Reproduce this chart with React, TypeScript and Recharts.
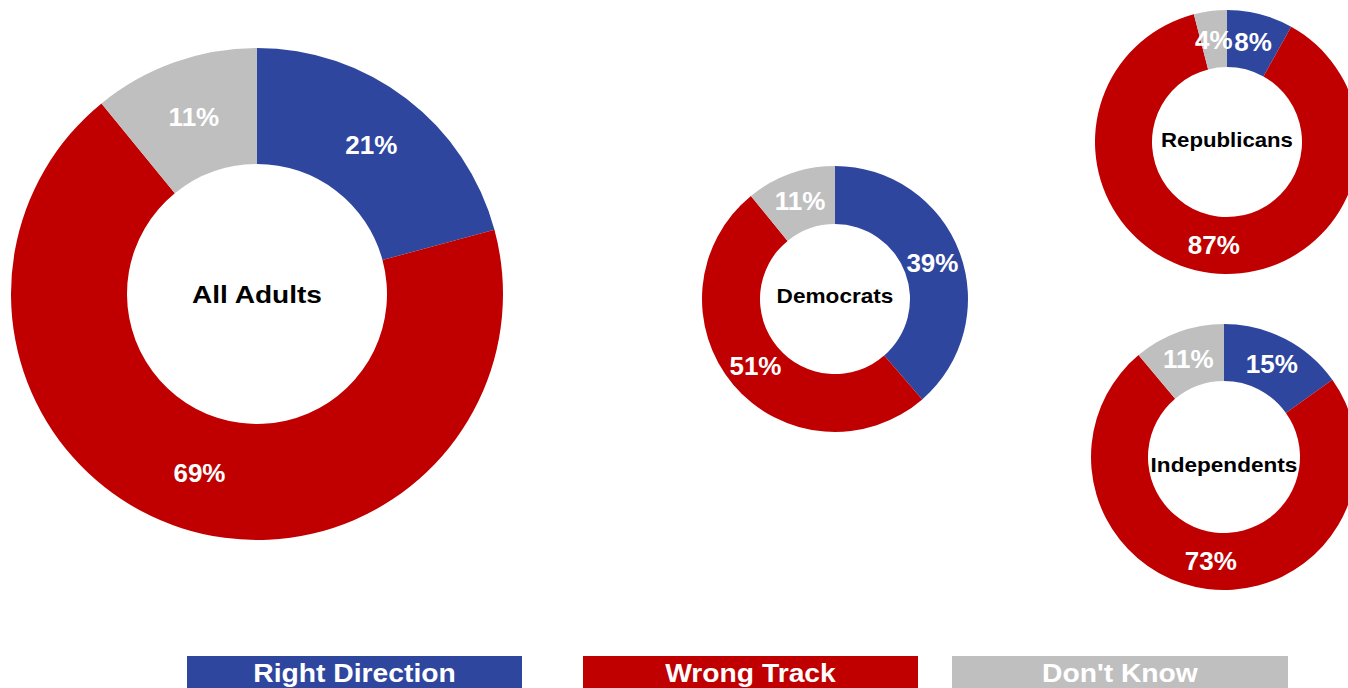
import React from 'react';
import { PieChart, Pie, Cell, Legend } from 'recharts';

const categories = ['Right Direction', 'Wrong Track', "Don't Know"];
const colors = ['#2F469E', '#C00000', '#BFBFBF'];
const groupNames = ['All Adults', 'Democrats', 'Republicans', 'Independents'];
const allAdults = [21, 69, 11];
const democrats = [39, 51, 11];
const republicans = [8, 87, 4];
const independents = [15, 73, 11];

const toData = (vals: number[]) => categories.map((name, i) => ({ name, value: vals[i] }));

const RAD = Math.PI / 180;
const FONT = 'Liberation Sans, Arial, Helvetica, sans-serif';

function makeLabel(title: string, titleSize: number, titleScale: number, titleShift: number) {
  return (p: any) => {
    const r = (p.innerRadius + p.outerRadius) / 2;
    const x = p.cx + r * Math.cos(-p.midAngle * RAD);
    const y = p.cy + r * Math.sin(-p.midAngle * RAD);
    return (
      <g>
        <text
          x={x}
          y={y}
          dy="0.36em"
          textAnchor="middle"
          fill="#FFFFFF"
          fontFamily={FONT}
          fontWeight="bold"
          fontSize={26}
        >
          {`${p.value}%`}
        </text>
        {p.index === 0 && (
          <text
            transform={`translate(${p.cx},${p.cy + titleShift}) scale(${titleScale},1)`}
            x={0}
            y={0}
            dy="0.36em"
            textAnchor="middle"
            fill="#000000"
            fontFamily={FONT}
            fontWeight="bold"
            fontSize={titleSize}
          >
            {title}
          </text>
        )}
      </g>
    );
  };
}

const legendBoxes = [
  { left: 187, width: 335 },
  { left: 583, width: 335 },
  { left: 952, width: 336 },
];

const renderLegend = () => (
  <div style={{ position: 'relative', width: 1348, height: 32 }}>
    {categories.map((c, i) => (
      <div
        key={c}
        style={{
          position: 'absolute',
          left: legendBoxes[i].left,
          top: 0,
          width: legendBoxes[i].width,
          height: 32,
          background: colors[i],
          color: '#FFFFFF',
          fontFamily: FONT,
          fontWeight: 'bold',
          fontSize: 25,
          lineHeight: '34px',
          textAlign: 'center',
          overflow: 'hidden',
        }}
      >
        <span style={{ display: 'inline-block', transform: 'scaleX(1.13)' }}>{c}</span>
      </div>
    ))}
  </div>
);

const pies = [
  { vals: allAdults, cx: 257, cy: 294, ir: 130, or: 246, ts: 24, sc: 1.17, sh: 0 },
  { vals: democrats, cx: 835, cy: 299, ir: 75, or: 133, ts: 20, sc: 1.13, sh: -3 },
  { vals: republicans, cx: 1227, cy: 142, ir: 75, or: 132, ts: 20, sc: 1.11, sh: -2 },
  { vals: independents, cx: 1224, cy: 457, ir: 76, or: 133, ts: 20, sc: 1.13, sh: 8 },
];

export default function App() {
  return (
    <div style={{ position: 'absolute', left: 0, top: 0, width: 1348, height: 688, overflow: 'hidden', background: '#FFFFFF' }}>
      <PieChart width={1348} height={688} margin={{ top: 0, right: 0, bottom: 0, left: 0 }}>
        {pies.map((p, gi) => (
          <Pie
            key={groupNames[gi]}
            data={toData(p.vals)}
            dataKey="value"
            nameKey="name"
            cx={p.cx}
            cy={p.cy}
            innerRadius={p.ir}
            outerRadius={p.or}
            startAngle={90}
            endAngle={-270}
            stroke="none"
            isAnimationActive={false}
            labelLine={false}
            label={makeLabel(groupNames[gi], p.ts, p.sc, p.sh)}
          >
            {p.vals.map((_, i) => (
              <Cell key={i} fill={colors[i]} />
            ))}
          </Pie>
        ))}
        <Legend
          content={renderLegend}
          wrapperStyle={{ position: 'absolute', left: 0, top: 656, width: 1348, height: 32, bottom: 'auto' }}
        />
      </PieChart>
    </div>
  );
}
